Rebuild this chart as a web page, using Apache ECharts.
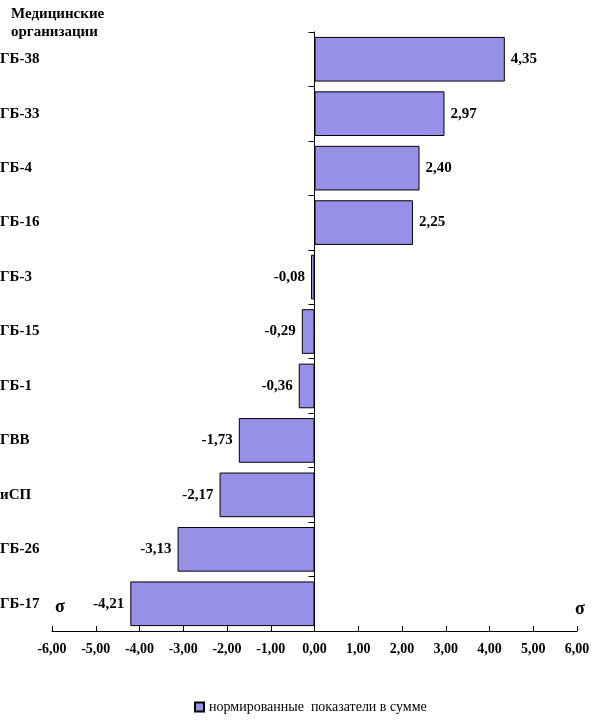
<!DOCTYPE html>
<html>
<head>
<meta charset="utf-8">
<script src="https://cdn.jsdelivr.net/npm/echarts@6/dist/echarts.min.js"></script>
<style>
  html, body { margin: 0; padding: 0; background: #fff; }
  #chart { width: 597px; height: 728px; }
</style>
</head>
<body>
<div id="chart"></div>
<script>
// categories top to bottom
var orgs = ["ГБ-38", "ГБ-33", "ГБ-4", "ГБ-16", "ГБ-3", "ГБ-15", "ГБ-1", "ГВВ", "иСП", "ГБ-26", "ГБ-17"];
var sigma = [4.35, 2.97, 2.40, 2.25, -0.08, -0.29, -0.36, -1.73, -2.17, -3.13, -4.21];
var seriesName = "нормированные  показатели в сумме";
var titleText = "Медицинские\nорганизации";

var serif = "'Liberation Serif', 'Times New Roman', serif";
var fmt = function (v) { return v.toFixed(2).replace(".", ","); };

var barData = sigma.map(function (v) {
    return {
        value: v,
        label: { position: v >= 0 ? "right" : "left" }
    };
});

var myChart = echarts.init(document.getElementById("chart"));

var option = {
    animation: false,
    textStyle: { fontFamily: serif },
    grid: { left: 52, right: 20, top: 32, bottom: 97, containLabel: false, outerBoundsMode: "none" },
    legend: {
        bottom: 9,
        left: 189,
        itemWidth: 9,
        itemHeight: 9,
        itemGap: 4,
        icon: "rect",
        textStyle: { fontFamily: serif, fontSize: 14, color: "#000" },
        data: [seriesName]
    },
    xAxis: {
        type: "value",
        min: -6,
        max: 6,
        interval: 1,
        axisLine: { show: true, lineStyle: { color: "#000", width: 1 } },
        axisTick: { show: true, inside: true, length: 5, lineStyle: { color: "#000" } },
        splitLine: { show: false },
        axisLabel: {
            color: "#000",
            fontFamily: serif,
            fontWeight: "bold",
            fontSize: 14,
            margin: 11,
            formatter: fmt
        }
    },
    yAxis: [{
        type: "category",
        data: orgs,
        inverse: true,
        axisLine: { show: true, onZero: true, lineStyle: { color: "#000", width: 1 } },
        axisTick: { show: true, length: 6, lineStyle: { color: "#000" } },
        axisLabel: { show: false }
    }, {
        type: "category",
        data: orgs,
        inverse: true,
        position: "left",
        axisLine: { show: false, onZero: false },
        axisTick: { show: false },
        axisLabel: {
            show: true,
            align: "left",
            margin: 52,
            color: "#000",
            fontFamily: serif,
            fontWeight: "bold",
            fontSize: 15
        }
    }],
    graphic: [{
        type: "text",
        left: 11,
        top: 5,
        style: {
            text: titleText,
            fontFamily: serif,
            fontWeight: "bold",
            fontSize: 15,
            lineHeight: 18,
            fill: "#000"
        }
    }, {
        type: "text",
        left: 55,
        top: 598,
        style: { text: "σ", fontFamily: serif, fontWeight: "bold", fontSize: 18, fill: "#000" }
    }, {
        type: "text",
        left: 575,
        top: 600,
        style: { text: "σ", fontFamily: serif, fontWeight: "bold", fontSize: 18, fill: "#000" }
    }],
    series: [{
        name: seriesName,
        type: "bar",
        yAxisIndex: 0,
        data: barData,
        barCategoryGap: "18%",
        itemStyle: { color: "#9690E8", borderColor: "#000", borderWidth: 1 },
        label: {
            show: true,
            distance: 6,
            color: "#000",
            fontFamily: serif,
            fontWeight: "bold",
            fontSize: 15,
            formatter: function (p) { return fmt(p.value); }
        }
    }]
};

myChart.setOption(option);

window.onresize = function () {
    myChart.resize();
};
</script>
</body>
</html>
